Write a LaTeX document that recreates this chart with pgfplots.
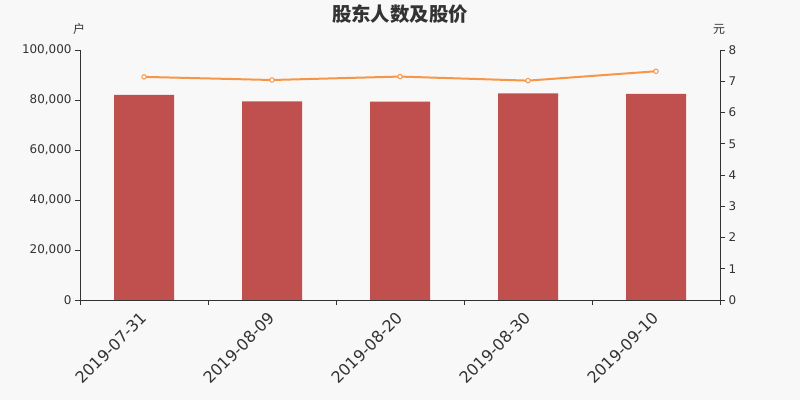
\documentclass[border=0pt]{standalone}
\usepackage{fontspec}
\setmainfont{DejaVu Sans}
\newfontfamily\cjk{Noto Sans CJK SC}
\usepackage{pgfplots}
\pgfplotsset{compat=1.18}
\definecolor{bg}{HTML}{F8F8F8}
\definecolor{barred}{HTML}{C0504D}
\definecolor{lineorange}{HTML}{F79646}
\definecolor{axisgray}{HTML}{333333}

\begin{document}
\begin{tikzpicture}[x=1bp,y=1bp]
\fill[bg] (0,0) rectangle (800,400);
\useasboundingbox (0,0) rectangle (800,400);

% holders (left axis)
\begin{axis}[
  at={(80bp,100bp)}, anchor=south west,
  scale only axis, width=640bp, height=250bp,
  xmin=-0.5, xmax=4.5, ymin=0, ymax=100000,
  axis x line*=bottom, axis y line*=left,
  axis line style={axisgray, line width=0.8bp},
  xtick={0,...,4},
  xticklabels={2019-07-31,2019-08-09,2019-08-20,2019-08-30,2019-09-10},
  xtick style={draw=none},
  x tick label style={rotate=45, anchor=north east, inner sep=1bp, xshift=-6bp,
    font=\fontsize{16}{16}\selectfont, text=axisgray},
  ytick={0,20000,...,100000},
  y tick label style={font=\fontsize{12}{12}\selectfont, text=axisgray},
  ytick style={axisgray, line width=0.8bp},
  tick align=outside, major tick length=5bp,
  scaled y ticks=false,
  /pgf/number format/fixed,
  /pgf/number format/1000 sep={,},
  /pgf/number format/assume math mode=true,
  clip=false,
]
\addplot[ybar, bar width=60bp, fill=barred, draw=none] coordinates {
(0, 82000)
(1, 79470)
(2, 79330)
(3, 82670)
(4, 82400)
};
\end{axis}

% price (right axis)
\begin{axis}[
  at={(80bp,100bp)}, anchor=south west,
  scale only axis, width=640bp, height=250bp,
  xmin=-0.5, xmax=4.5, ymin=0, ymax=8,
  axis x line*=bottom, axis y line*=right,
  axis line style={axisgray, line width=0.8bp},
  xtick={-0.5,0.5,...,4.5}, xticklabels={},
  ytick={0,...,8},
  y tick label style={font=\fontsize{12}{12}\selectfont, text=axisgray},
  tick style={axisgray, line width=0.8bp},
  tick align=outside, major tick length=5bp,
  /pgf/number format/assume math mode=true,
  clip=false,
]
\addplot[lineorange, line width=2bp, mark=*, mark size=2.2bp,
  mark options={fill=white, draw=lineorange, line width=1bp}] coordinates {
(0, 7.14)
(1, 7.04)
(2, 7.15)
(3, 7.02)
(4, 7.32)
};
\end{axis}

\node[font=\cjk\bfseries\fontsize{19.5}{19.5}\selectfont, text=axisgray] at (400,385.5) {股东人数及股价};
\node[font=\cjk\fontsize{12}{12}\selectfont, text=axisgray] at (79,371) {户};
\node[font=\cjk\fontsize{12}{12}\selectfont, text=axisgray] at (719,371) {元};
\end{tikzpicture}
\end{document}
